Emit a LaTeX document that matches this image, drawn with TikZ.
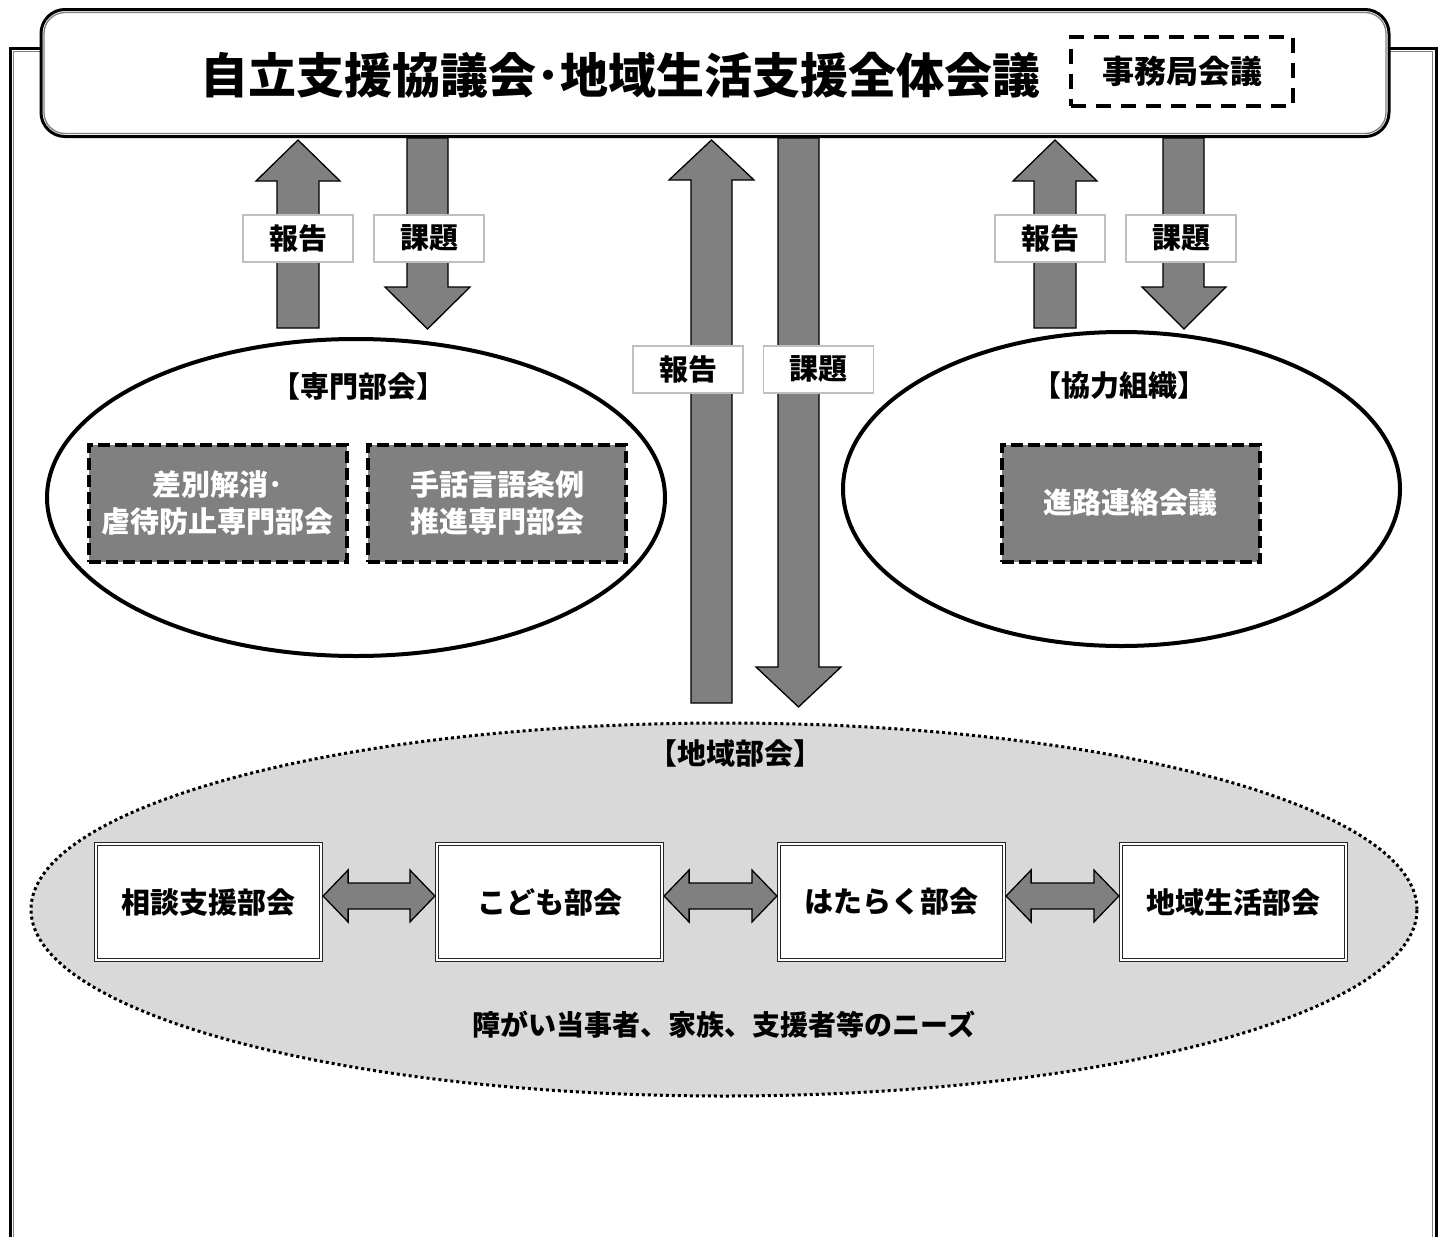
\documentclass[tikz,border=0pt]{standalone}
\usepackage{fontspec}
\setmainfont{Noto Sans CJK JP}
\usetikzlibrary{shapes.geometric,calc}
\definecolor{arrowgray}{HTML}{808080}
\definecolor{lightfill}{HTML}{D9D9D9}
\definecolor{framegray}{HTML}{808080}
\definecolor{labelborder}{HTML}{BFBFBF}
\begin{document}
\begin{tikzpicture}[x=1pt,y=-1pt,font=\bfseries,
  blockarrow/.style={fill=arrowgray,draw=black,line width=1.3pt,line join=miter},
  lbl/.style={draw=labelborder,fill=white,line width=1.2pt,minimum width=110pt,minimum height=47pt,inner sep=0pt,font=\bfseries\fontsize{29}{32}\selectfont},
  graybox/.style={fill=arrowgray,draw=black,line width=4pt,dash pattern=on 12pt off 5pt,minimum width=258pt,minimum height=117pt,inner sep=0pt,align=center,text=white,font=\bfseries\fontsize{29}{37}\selectfont},
  whitebox/.style={fill=white,draw=black!85,line width=1.2pt,double=white,double distance=1.2pt,minimum width=225pt,minimum height=116pt,inner sep=0pt,font=\bfseries\fontsize{29}{32}\selectfont},
  oval/.style={ellipse,draw=black,line width=4pt,inner sep=0pt,fill=white},
  heading/.style={font=\bfseries\fontsize{29}{32}\selectfont,inner sep=0pt}
]
\useasboundingbox (0,0) rectangle (1446,1237);
% outer frame
\draw[black,line width=3pt] (10,1240) -- (10,48) -- (1436,48) -- (1436,1240);
\draw[framegray,line width=1.2pt] (13.5,1240) -- (13.5,51.5) -- (1432.5,51.5) -- (1432.5,1240);
% title box
\node[fill=white,draw=black,line width=3pt,rounded corners=24pt,minimum width=1348pt,minimum height=127pt,inner sep=0pt] (title) at (715,73) {};
\draw[framegray,line width=1.3pt,rounded corners=21pt] (44,12.5) rectangle (1386,133.5);
\node[inner sep=0pt,font=\bfseries\fontsize{48}{52}\selectfont] (titletext) at (620,75) {自立支援協議会･地域生活支援全体会議};
\node[draw=black,line width=4pt,dash pattern=on 15pt off 10pt,minimum width=222pt,minimum height=69pt,inner sep=0pt,font=\bfseries\fontsize{32}{34}\selectfont] (jimu) at (1182,71) {事務局会議};

% ellipses
\node[oval,minimum width=618pt,minimum height=317pt] (senmon) at (356,497.5) {};
\node[oval,minimum width=557pt,minimum height=314pt] (kyoryoku) at (1121.5,489) {};
\node[ellipse,draw=black,fill=lightfill,line width=3pt,dash pattern=on 3pt off 3pt,inner sep=0pt,minimum width=1386pt,minimum height=373pt] (chiiki) at (724,909.5) {};

% block arrows left
\draw[blockarrow] (298,140) -- (340,181) -- (319,181) -- (319,328) -- (277,328) -- (277,181) -- (256,181) -- cycle;
\draw[blockarrow] (407,138) -- (448,138) -- (448,287) -- (470,287) -- (427.5,329) -- (385,287) -- (407,287) -- cycle;
% block arrows middle
\draw[blockarrow] (711.5,140) -- (754,180) -- (732,180) -- (732,703) -- (691,703) -- (691,180) -- (669,180) -- cycle;
\draw[blockarrow] (778,138) -- (819,138) -- (819,667) -- (841,667) -- (798.5,707) -- (756,667) -- (778,667) -- cycle;
% block arrows right
\draw[blockarrow] (1055,140) -- (1097,181) -- (1076,181) -- (1076,328) -- (1034,328) -- (1034,181) -- (1013,181) -- cycle;
\draw[blockarrow] (1163,138) -- (1204,138) -- (1204,287) -- (1226,287) -- (1184,329) -- (1142,287) -- (1163,287) -- cycle;

% labels
\node[lbl] (l1) at (298,238.5) {報告};
\node[lbl] (l2) at (429,238.5) {課題};
\node[lbl] (l3) at (688,369.5) {報告};
\node[lbl] (l4) at (818.5,369.5) {課題};
\node[lbl] (l5) at (1050,238.5) {報告};
\node[lbl] (l6) at (1181,238.5) {課題};

% headings
\node[heading] (h1) at (358,386) {【専門部会】};
\node[heading] (h2) at (1119,386) {【協力組織】};
\node[heading] (h3) at (735,753) {【地域部会】};

% gray dashed boxes
\node[graybox] (g1) at (217.5,503) {差別解消･\\虐待防止専門部会};
\node[graybox] (g2) at (497,503) {手話言語条例\\推進専門部会};
\node[graybox] (g3) at (1130.5,503) {進路連絡会議};

% white boxes
\node[whitebox] (b1) at (208.5,902) {相談支援部会};
\node[whitebox] (b2) at (549.5,902) {こども部会};
\node[whitebox] (b3) at (891.5,902) {はたらく部会};
\node[whitebox] (b4) at (1233.5,902) {地域生活部会};

% double arrows
\foreach \a/\b in {b1/b2,b2/b3,b3/b4}{
  \path ($(\a.east)+(1.5,-6)$) coordinate (p) ($(\b.west)+(-1.5,-6)$) coordinate (q);
  \draw[blockarrow] (p) -- ++(25,-26) -- ++(0,13) -- ($(q)+(-25,-13)$) -- ++(0,-13) -- (q) -- ++(-25,26) -- ++(0,-13) -- ($(p)+(25,13)$) -- ++(0,13) -- cycle;
}

\node[heading,font=\bfseries\fontsize{28}{30}\selectfont] (needs) at (724,1025) {障がい当事者、家族、支援者等のニーズ};
\end{tikzpicture}
\end{document}
